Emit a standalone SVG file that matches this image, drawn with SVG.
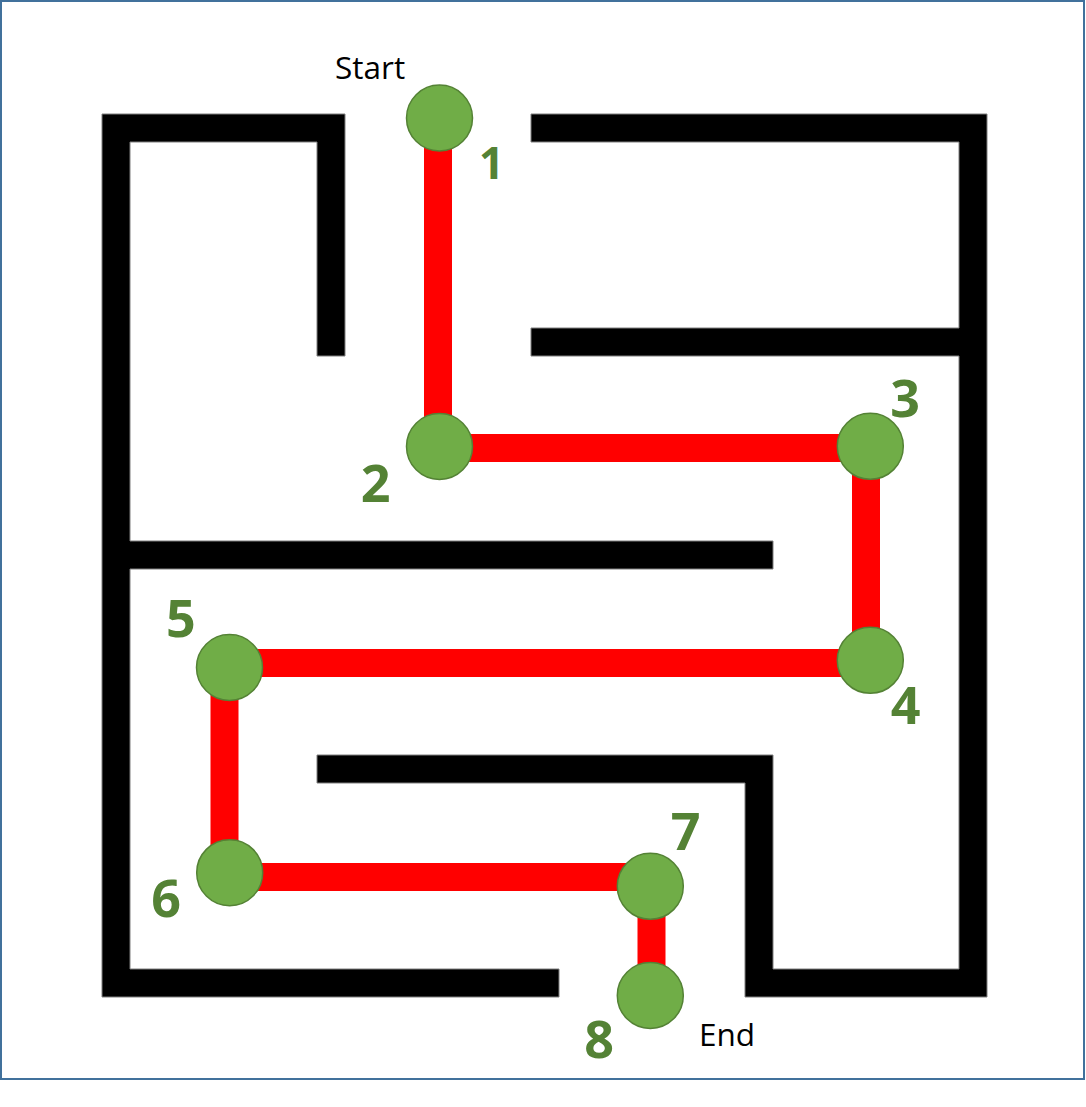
<svg xmlns="http://www.w3.org/2000/svg" width="1086" height="1107" viewBox="0 0 1086 1107">
<style>
.wall{fill:#000;stroke:#7f7f7f;stroke-width:1}
.path{stroke:#FF0000;stroke-width:28;fill:none}
.node{fill:#70AD47;stroke:#548235;stroke-width:1.5}
.num{font-family:"Open Sans","Liberation Sans",sans-serif;font-weight:bold;font-size:52px;fill:#548235;text-anchor:middle}
.lbl{font-family:"Open Sans","Liberation Sans",sans-serif;font-size:31.5px;fill:#000}
</style>
<rect x="0" y="0" width="1086" height="1107" fill="#fff"/>
<rect x="1" y="1" width="1083" height="1078" fill="none" stroke="#41719C" stroke-width="2"/>
<g id="walls">
<path class="wall" d="M345,114 H102 V997 H559 V969 H130 V569 H773 V541 H130 V142 H317 V356 H345 Z"/>
<path class="wall" d="M531,114 H987 V997 H745 V783 H317 V755 H773 V969 H959 V356 H531 V328 H959 V142 H531 Z"/>
</g>
<g id="connectors">
<line class="path" x1="438" y1="118" x2="438" y2="447"/>
<line class="path" x1="439" y1="448" x2="870" y2="448"/>
<line class="path" x1="866" y1="446" x2="866" y2="660"/>
<line class="path" x1="870" y1="663" x2="229" y2="663"/>
<line class="path" x1="224.5" y1="667" x2="224.5" y2="873"/>
<line class="path" x1="229" y1="877" x2="650" y2="877"/>
<line class="path" x1="651.5" y1="886" x2="651.5" y2="995"/>
</g>
<g id="node1"><circle class="node" cx="439.5" cy="118" r="33"/><text class="num" x="491.5" y="179" style="font-size:44px">1</text></g>
<g id="node2"><circle class="node" cx="439.5" cy="446.5" r="33"/><text class="num" x="375.5" y="502">2</text></g>
<g id="node3"><circle class="node" cx="870.3" cy="446.3" r="33"/><text class="num" x="905" y="417">3</text></g>
<g id="node4"><circle class="node" cx="870.3" cy="660.3" r="33"/><text class="num" x="905.5" y="724">4</text></g>
<g id="node5"><circle class="node" cx="229.5" cy="667.5" r="33"/><text class="num" x="180.8" y="636.5">5</text></g>
<g id="node6"><circle class="node" cx="229.7" cy="872.7" r="33"/><text class="num" x="166" y="917">6</text></g>
<g id="node7"><circle class="node" cx="650.3" cy="886.3" r="33"/><text class="num" x="685.5" y="850">7</text></g>
<g id="node8"><circle class="node" cx="650.3" cy="995.5" r="33"/><text class="num" x="599" y="1058">8</text></g>
<text class="lbl" x="335" y="79">Start</text>
<text class="lbl" x="699" y="1046">End</text>
</svg>
